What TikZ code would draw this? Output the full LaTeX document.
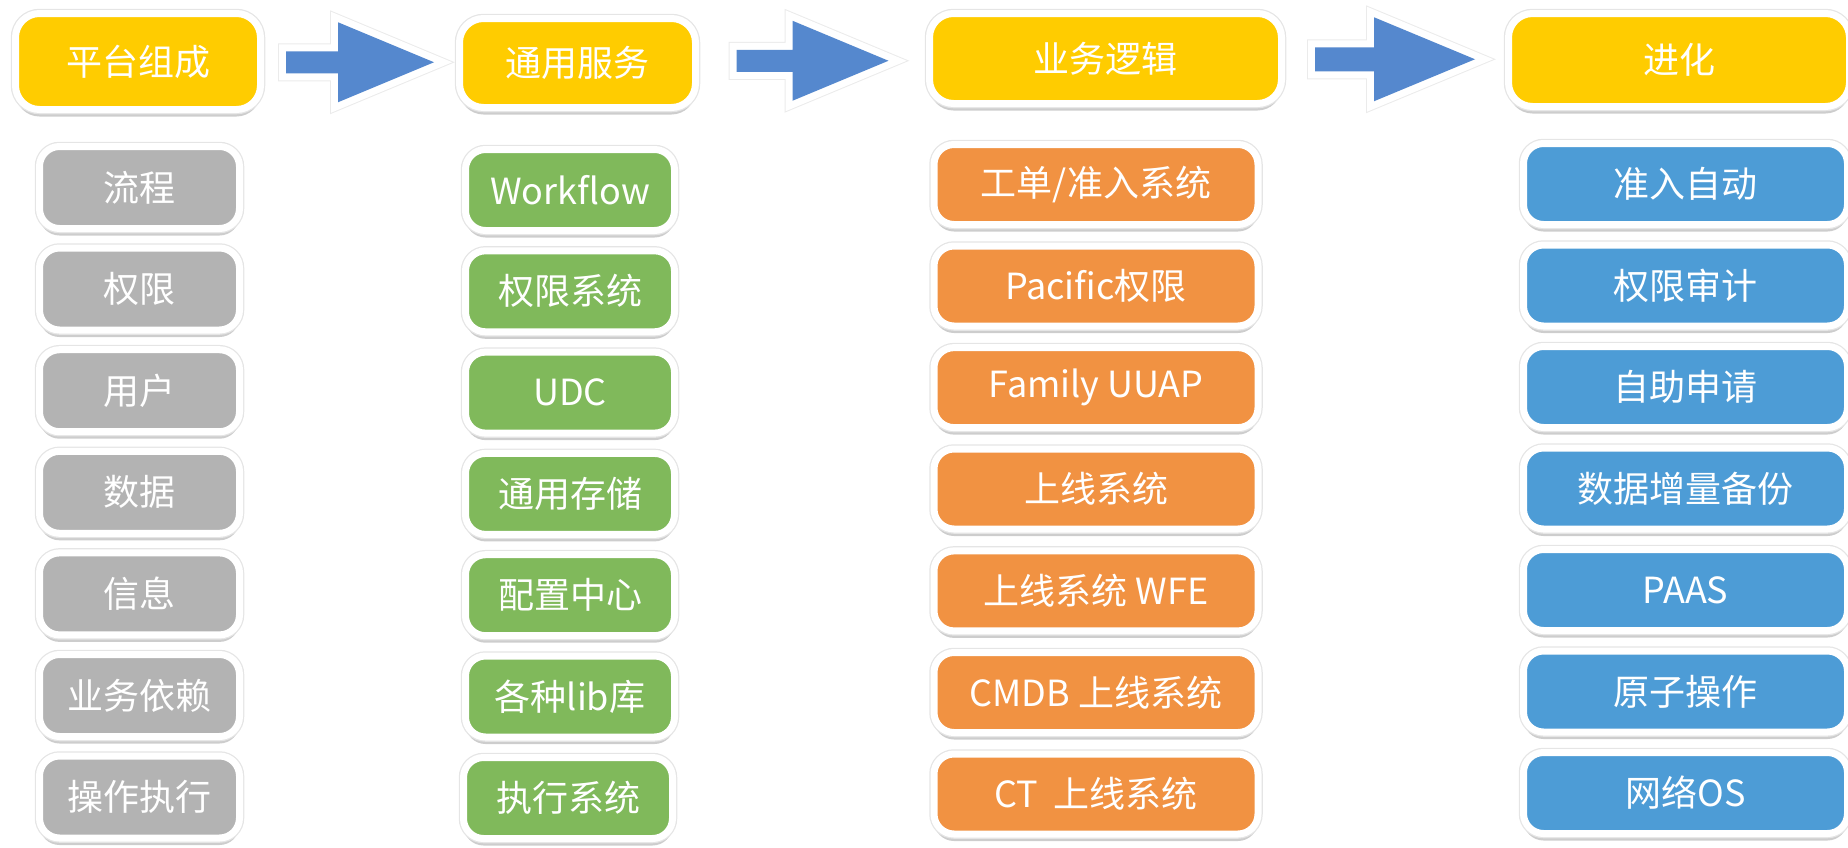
\documentclass[tikz,border=0pt]{standalone}
\usepackage{fontspec}
\setmainfont{Noto Sans CJK SC}
\usetikzlibrary{calc,shadows}
\definecolor{hdryellow}{RGB}{255,204,0}
\definecolor{itemgray}{RGB}{179,179,179}
\definecolor{itemgreen}{RGB}{128,185,91}
\definecolor{itemorange}{RGB}{241,146,66}
\definecolor{itemblue}{RGB}{77,156,214}
\definecolor{arrowblue}{RGB}{85,136,206}

\begin{document}
\begin{tikzpicture}[x=1pt,y=-1pt,
    box/.style={draw=white, line width=7pt, text=white, inner sep=0pt,
        font=\fontsize{36pt}{40pt}\selectfont,
        drop shadow={shadow xshift=0pt, shadow yshift=-7pt, opacity=.28, fill=black!70},
        preaction={draw=black!10, line width=9.5pt}},
    hdr/.style={box, rounded corners=24pt, fill=hdryellow},
    grayitem/.style={box, rounded corners=20pt, fill=itemgray, minimum width=200pt, minimum height=82pt},
    greenitem/.style={box, rounded corners=20pt, fill=itemgreen, minimum width=209pt, minimum height=81pt},
    orangeitem/.style={box, rounded corners=20pt, fill=itemorange, minimum width=324pt, minimum height=80pt},
    blueitem/.style={box, rounded corners=20pt, fill=itemblue, minimum width=324pt, minimum height=81pt},
    bigarrow/.style={draw=white, line width=14pt, line join=miter, postaction={fill=arrowblue},
        drop shadow={shadow xshift=1pt, shadow yshift=-5pt, opacity=.18, fill=black!70},
        preaction={draw=black!8, line width=16pt, line join=miter}}]
    \useasboundingbox (0,0) rectangle (1848,847);
    \node[hdr, minimum width=245pt, minimum height=96pt] (hA) at (138,61.5) {平台组成};
    \node[hdr, minimum width=236pt, minimum height=89pt] (hB) at (577.5,63) {通用服务};
    \node[hdr, minimum width=352pt, minimum height=90pt] (hC) at (1105.5,58.5) {业务逻辑};
    \node[hdr, minimum width=341pt, minimum height=93pt] (hD) at (1679,60) {进化};
    \coordinate (m1) at ($(hA.east)!.5!(hB.west)$);
    \coordinate (m2) at ($(hB.east)!.5!(hC.west)$);
    \coordinate (m3) at ($(hC.east)!.5!(hD.west)$);
    \draw[bigarrow, shift={(m1)}] (-74,-11) -- (-22,-11) -- (-22,-40) -- (74,0) -- (-22,40) -- (-22,11) -- (-74,11) -- cycle;
    \draw[bigarrow, shift={(m2)}] (-76,-11) -- (-20,-11) -- (-20,-40) -- (76,0) -- (-20,40) -- (-20,11) -- (-76,11) -- cycle;
    \draw[bigarrow, shift={(m3)}] (-80,-12) -- (-21,-12) -- (-21,-42) -- (80,0) -- (-21,42) -- (-21,12) -- (-80,12) -- cycle;
    \node[grayitem] (p1) at (139.5,187.5) {流程};
    \node[grayitem] (p2) at (139.5,289) {权限};
    \node[grayitem] (p3) at (139.5,390.7) {用户};
    \node[grayitem] (p4) at (139.5,492.3) {数据};
    \node[grayitem] (p5) at (139.5,593.9) {信息};
    \node[grayitem] (p6) at (139.5,695.5) {业务依赖};
    \node[grayitem] (p7) at (139.5,797) {操作执行};
    \node[greenitem] (s1) at (570,190) {Workflow};
    \node[greenitem] (s2) at (570,291.3) {权限系统};
    \node[greenitem] (s3) at (570,392.6) {UDC};
    \node[greenitem] (s4) at (570,493.9) {通用存储};
    \node[greenitem] (s5) at (570,595.2) {配置中心};
    \node[greenitem] (s6) at (570,696.5) {各种lib库};
    \node[greenitem] (s7) at (568,798) {执行系统};
    \node[orangeitem] (b1) at (1096,184.5) {工单/准入系统};
    \node[orangeitem] (b2) at (1096,286) {Pacific权限};
    \node[orangeitem] (b3) at (1096,387.6) {Family UUAP};
    \node[orangeitem] (b4) at (1096,489) {上线系统};
    \node[orangeitem] (b5) at (1096,590.9) {上线系统 WFE};
    \node[orangeitem] (b6) at (1096,692.5) {CMDB 上线系统};
    \node[orangeitem] (b7) at (1096,794) {CT\ \ 上线系统};
    \node[blueitem] (e1) at (1685.5,184) {准入自动};
    \node[blueitem] (e2) at (1685.5,285.5) {权限审计};
    \node[blueitem] (e3) at (1685.5,387) {自助申请};
    \node[blueitem] (e4) at (1685.5,488.5) {数据增量备份};
    \node[blueitem] (e5) at (1685.5,590) {PAAS};
    \node[blueitem] (e6) at (1685.5,691.5) {原子操作};
    \node[blueitem] (e7) at (1685.5,793) {网络OS};
\end{tikzpicture}
\end{document}
